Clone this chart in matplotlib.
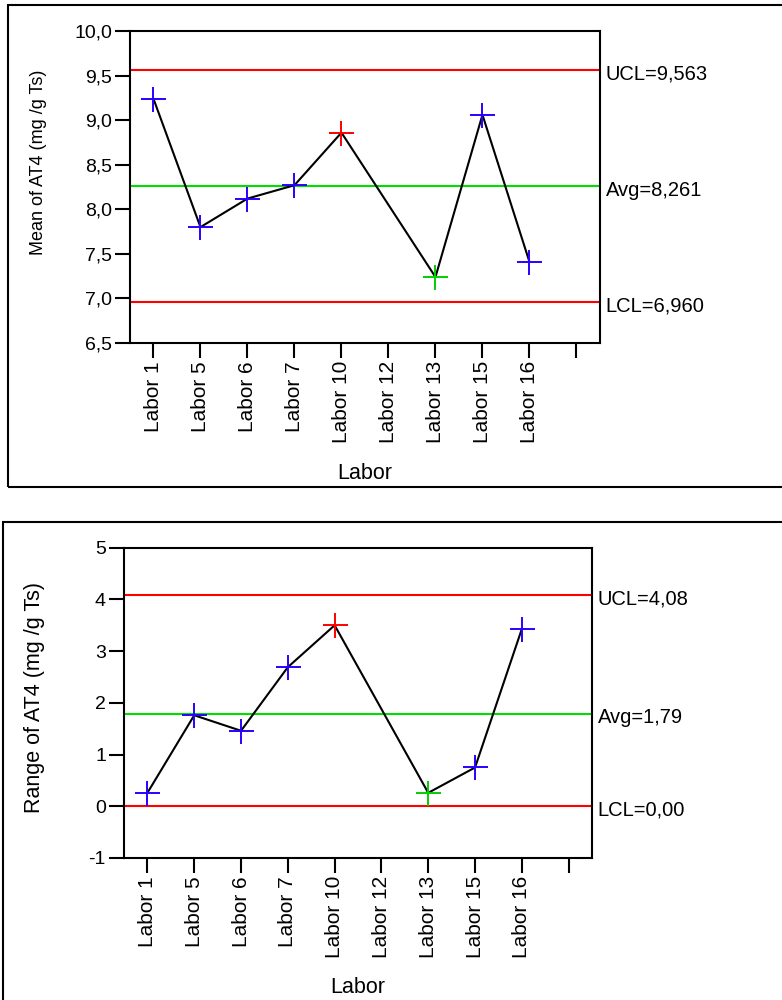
import numpy as np
import matplotlib
matplotlib.use("Agg")
import matplotlib.pyplot as plt
from matplotlib.patches import Rectangle

plt.rcParams['font.family'] = ['Liberation Sans', 'DejaVu Sans']

# categories (last tick has no label in the original)
labors = ['Labor 1', 'Labor 5', 'Labor 6', 'Labor 7', 'Labor 10',
          'Labor 12', 'Labor 13', 'Labor 15', 'Labor 16', '']

# mean chart
mean_vals = [9.24, 7.80, 8.12, 8.27, 8.86, np.nan, 7.24, 9.06, 7.41, np.nan]
mean_ucl, mean_avg, mean_lcl = 9.563, 8.261, 6.960
mean_ticks = [6.5, 7.0, 7.5, 8.0, 8.5, 9.0, 9.5, 10.0]

# range chart
range_vals = [0.26, 1.76, 1.46, 2.69, 3.50, np.nan, 0.26, 0.75, 3.43, np.nan]
range_ucl, range_avg, range_lcl = 4.08, 1.79, 0.00
range_ticks = [-1, 0, 1, 2, 3, 4, 5]

pt_colors = ['#2a00ff', '#2a00ff', '#2a00ff', '#2a00ff', '#ff0000',
             None, '#00d000', '#2a00ff', '#2a00ff', None]

RED = '#ff0000'
GREEN = '#00dd00'

fig = plt.figure(figsize=(7.82, 10), dpi=100)

# outer frames around each chart
fig.patches.append(Rectangle((0.0102, 0.513), 1.2, 0.482, transform=fig.transFigure,
                             fill=False, edgecolor='black', linewidth=1.5))
fig.patches.append(Rectangle((0.0035, -0.2), 1.2, 0.678, transform=fig.transFigure,
                             fill=False, edgecolor='black', linewidth=1.5))

def fmt(v, dec):
    return ('%.*f' % (dec, v)).replace('.', ',')

def draw(ax, vals, ucl, avg, lcl, ticks, dec, ylabel, ylab_pos, ylab_size, lim_dec):
    x = np.arange(len(labors))
    vals = np.array(vals, dtype=float)
    ok = ~np.isnan(vals)
    ax.set_xlim(-0.5, len(labors) - 0.5)
    ax.set_ylim(ticks[0], ticks[-1])

    for y, c in [(ucl, RED), (avg, GREEN), (lcl, RED)]:
        ax.axhline(y, color=c, linewidth=1.5, zorder=2)

    ax.plot(x[ok], vals[ok], color='black', linewidth=1.5, zorder=3)
    for xi, v, c in zip(x, vals, pt_colors):
        if np.isnan(v):
            continue
        ax.plot(xi, v, marker='+', markersize=18, markeredgewidth=1.4,
                color=c, zorder=4, linestyle='none')

    ax.set_xticks(x)
    ax.set_xticklabels(labors, rotation=90, fontsize=15)
    ax.set_yticks(ticks)
    ax.set_yticklabels([fmt(t, dec) for t in ticks], fontsize=14)
    ax.tick_params(axis='both', direction='out', length=11, width=1.5, pad=2)

    for s in ax.spines.values():
        s.set_linewidth(1.5)

    ax.set_xlabel('Labor', fontsize=15.5)
    ax.xaxis.set_label_coords(0.5, -0.385)
    ax.set_ylabel(ylabel, fontsize=ylab_size)
    ax.yaxis.set_label_coords(*ylab_pos)

    for name, y in [('UCL', ucl), ('Avg', avg), ('LCL', lcl)]:
        ax.annotate('%s=%s' % (name, fmt(y, lim_dec)), xy=(1.0, y),
                    xycoords=('axes fraction', 'data'),
                    xytext=(4, -3), textcoords='offset points',
                    ha='left', va='center', fontsize=14.5)

ax1 = fig.add_axes([0.1662, 0.657, 0.601, 0.312])
draw(ax1, mean_vals, mean_ucl, mean_avg, mean_lcl, mean_ticks, 1,
     'Mean of AT4 (mg /g Ts)', (-0.177, 0.58), 13, 3)

ax2 = fig.add_axes([0.1586, 0.142, 0.5985, 0.3103])
draw(ax2, range_vals, range_ucl, range_avg, range_lcl, range_ticks, 0,
     'Range of AT4 (mg /g Ts)', (-0.169, 0.516), 15.5, 2)

fig.savefig('out.png', dpi=100)
